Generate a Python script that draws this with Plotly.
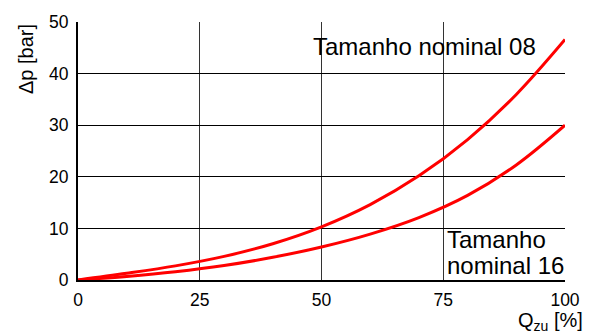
import plotly.graph_objects as go

# Flow share Q_zu [%] and pressure drop Δp [bar] for the two nominal sizes
q_08 = [0, 10, 20, 30, 40, 50, 60, 70, 80, 90, 100]
dp_08 = [0, 1.29, 2.74, 4.58, 7.03, 10.3, 14.61, 20.18, 27.22, 35.96, 46.6]

q_16 = [0, 10, 20, 30, 40, 50, 60, 70, 80, 90, 100]
dp_16 = [0, 0.7, 1.6, 2.8, 4.4, 6.4, 8.9, 12.1, 16.4, 22.3, 30]

x_ticks = [0, 25, 50, 75, 100]
y_ticks = [0, 10, 20, 30, 40, 50]

FONT = "Liberation Sans, Arial, sans-serif"
RED = "#ff0000"

fig = go.Figure()
for q, dp in ((q_08, dp_08), (q_16, dp_16)):
    fig.add_trace(go.Scatter(
        x=q, y=dp, mode="lines",
        line=dict(color=RED, width=3, shape="spline", smoothing=1),
        showlegend=False, hoverinfo="skip",
    ))

fig.update_layout(
    width=592, height=332,
    margin=dict(l=78, r=23, t=15, b=52),
    paper_bgcolor="white", plot_bgcolor="white",
    font=dict(family=FONT, size=17.5, color="black"),
)

fig.update_xaxes(
    range=[0, 100], tickvals=x_ticks, ticks="",
    showgrid=True, gridcolor="#333", gridwidth=1,
    showline=True, linecolor="black", linewidth=2,
    zeroline=False, ticklabelstandoff=3,
)
fig.update_yaxes(
    range=[0, 50], tickvals=y_ticks, ticks="",
    showgrid=True, gridcolor="black", gridwidth=1,
    showline=True, linecolor="black", linewidth=2,
    zeroline=False, ticklabelstandoff=4,
)

# Axis titles
fig.add_annotation(
    xref="paper", yref="paper", x=-0.108, y=0.858,
    xanchor="center", yanchor="middle", textangle=-90,
    text="Δp [bar]", showarrow=False, font=dict(size=20),
)
fig.add_annotation(
    xref="paper", yref="paper", x=1.0407, y=0, yshift=-27,
    xanchor="right", yanchor="top",
    text="Q<sub>zu</sub> [%]", showarrow=False, font=dict(size=20),
)

# Curve labels
fig.add_annotation(
    x=47.8, y=45.3, xanchor="left", yanchor="middle",
    text="Tamanho nominal 08", showarrow=False, font=dict(size=24),
)
fig.add_annotation(
    x=75.3, y=7.9, xanchor="left", yanchor="middle",
    text="Tamanho", showarrow=False, font=dict(size=24),
)
fig.add_annotation(
    x=75.3, y=2.8, xanchor="left", yanchor="middle",
    text="nominal 16", showarrow=False, font=dict(size=24),
)

fig.write_html("out.html")
